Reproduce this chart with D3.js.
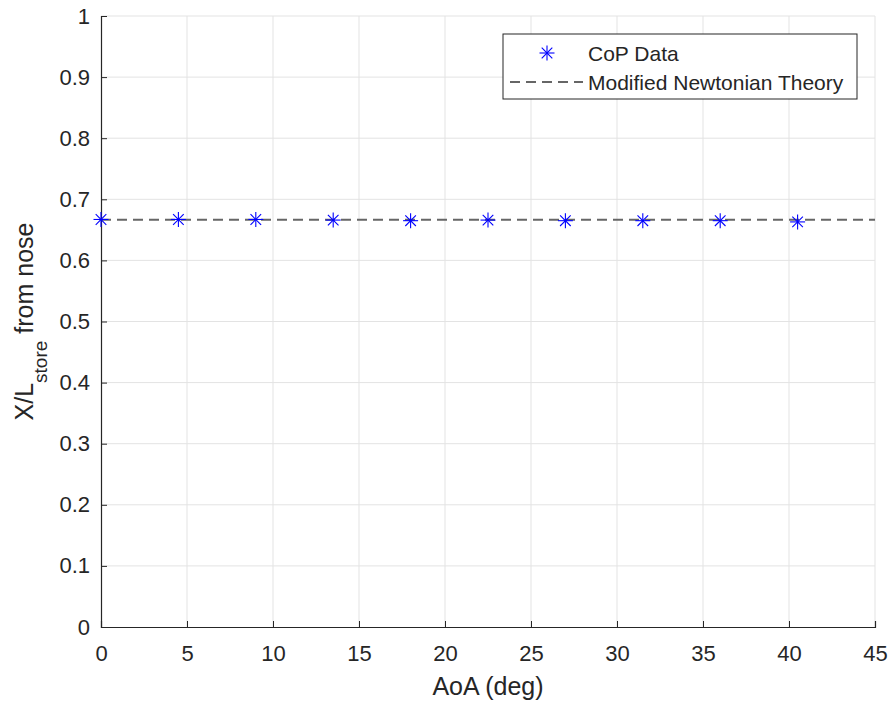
<!DOCTYPE html>
<html>
<head>
<meta charset="utf-8">
<script src="https://cdn.jsdelivr.net/npm/d3@7"></script>
<style>
  body { margin: 0; background: #fff; }
  svg text { font-family: "Liberation Sans", Arial, sans-serif; fill: #262626; }
</style>
</head>
<body>
<div id="chart"></div>
<script>
// angle of attack (deg) and centre of pressure location
var aoa = [0, 4.5, 9, 13.5, 18, 22.5, 27, 31.5, 36, 40.5];
var copData = [0.667, 0.667, 0.667, 0.666, 0.665, 0.666, 0.665, 0.665, 0.665, 0.663];
var theoryValue = 0.6667;
var xTicks = [0, 5, 10, 15, 20, 25, 30, 35, 40, 45];
var yTicks = [0, 0.1, 0.2, 0.3, 0.4, 0.5, 0.6, 0.7, 0.8, 0.9, 1];

var width = 893, height = 707,
    margin = {top: 16, right: 18, bottom: 80, left: 101};

var svg = d3.select('#chart').append('svg')
    .attr('width', width)
    .attr('height', height);

var x = d3.scaleLinear().domain([0, 45]).range([margin.left, width - margin.right]);
var y = d3.scaleLinear().domain([0, 1]).range([height - margin.bottom, margin.top]);

// grid
svg.append('g').selectAll('line.gx')
    .data(xTicks.slice(1)).enter().append('line')
    .attr('x1', d => x(d)).attr('x2', d => x(d))
    .attr('y1', y(0)).attr('y2', y(1))
    .attr('stroke', '#e3e3e3').attr('stroke-width', 1);
svg.append('g').selectAll('line.gy')
    .data(yTicks.slice(1)).enter().append('line')
    .attr('x1', x(0)).attr('x2', x(45))
    .attr('y1', d => y(d)).attr('y2', d => y(d))
    .attr('stroke', '#e3e3e3').attr('stroke-width', 1);

// axes
var xAxis = svg.append('g')
    .attr('transform', 'translate(0,' + y(0) + ')')
    .call(d3.axisBottom(x).tickValues(xTicks).tickSize(-6).tickPadding(18).tickFormat(d3.format('d')));
var yAxis = svg.append('g')
    .attr('transform', 'translate(' + x(0) + ',0)')
    .call(d3.axisLeft(y).tickValues(yTicks).tickSize(-6).tickPadding(11).tickFormat(d => d === 0 || d === 1 ? d : d3.format('.1f')(d)));
[xAxis, yAxis].forEach(function(a) {
  a.select('.domain').attr('stroke', '#262626').attr('stroke-width', 1.2);
  a.selectAll('.tick line').attr('stroke', '#262626');
  a.selectAll('.tick text').attr('font-size', 22).attr('fill', '#262626')
      .style('font-family', '"Liberation Sans", Arial, sans-serif');
});

// theory line
svg.append('line')
    .attr('x1', x(0)).attr('x2', x(45))
    .attr('y1', y(theoryValue)).attr('y2', y(theoryValue))
    .attr('stroke', '#666').attr('stroke-width', 2)
    .attr('stroke-dasharray', '10,6');

// asterisk markers
function asterisk(g, s) {
  var r = s / 2, d = r * 0.707;
  g.append('line').attr('x1', -r).attr('x2', r).attr('y1', 0).attr('y2', 0);
  g.append('line').attr('x1', 0).attr('x2', 0).attr('y1', -r).attr('y2', r);
  g.append('line').attr('x1', -d).attr('x2', d).attr('y1', -d).attr('y2', d);
  g.append('line').attr('x1', -d).attr('x2', d).attr('y1', d).attr('y2', -d);
}
svg.append('g').selectAll('g.pt')
    .data(aoa).enter().append('g')
    .attr('transform', (d, i) => 'translate(' + x(d) + ',' + y(copData[i]) + ')')
    .attr('stroke', '#0000ff').attr('stroke-width', 1.1)
    .each(function() { asterisk(d3.select(this), 15); });

// axis labels
svg.append('text')
    .attr('x', (x(0) + x(45)) / 2).attr('y', 695)
    .attr('text-anchor', 'middle').attr('font-size', 25)
    .text('AoA (deg)');
var yl = svg.append('text')
    .attr('transform', 'translate(33,' + ((y(0) + y(1)) / 2) + ') rotate(-90)')
    .attr('text-anchor', 'middle').attr('font-size', 25);
yl.append('tspan').text('X/L');
yl.append('tspan').attr('font-size', 19).attr('dy', 14).text('store');
yl.append('tspan').attr('dy', -14).text(' from nose');

// legend
var lg = svg.append('g').attr('transform', 'translate(503,34)');
lg.append('rect').attr('width', 354).attr('height', 65)
    .attr('fill', '#fff').attr('stroke', '#262626').attr('stroke-width', 1);
var la = lg.append('g').attr('transform', 'translate(44,19)')
    .attr('stroke', '#0000ff').attr('stroke-width', 1.1);
asterisk(la, 15);
lg.append('line').attr('x1', 7).attr('x2', 80).attr('y1', 48).attr('y2', 48)
    .attr('stroke', '#666').attr('stroke-width', 2).attr('stroke-dasharray', '10,6');
lg.append('text').attr('x', 85).attr('y', 27).attr('font-size', 21).attr('fill', '#000').text('CoP Data');
lg.append('text').attr('x', 85).attr('y', 56).attr('font-size', 21).attr('fill', '#000').text('Modified Newtonian Theory');
</script>
</body>
</html>
